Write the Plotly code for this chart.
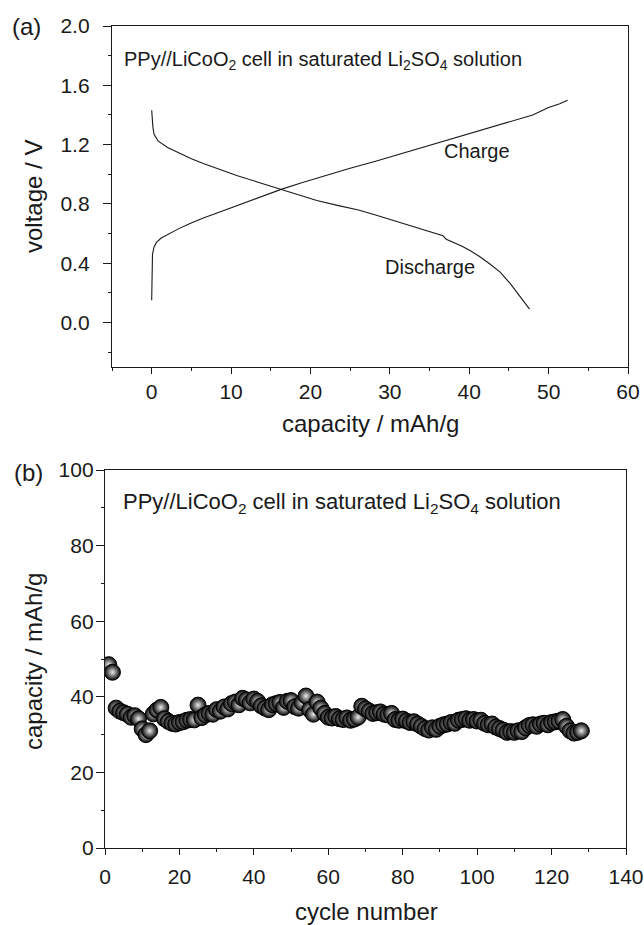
import plotly.graph_objects as go

# ---------------- data: panel (a) ----------------
charge_cap = [0.0, 0.05, 0.1, 0.3, 0.6, 1.2, 2.1, 3.3, 4.75, 6.5, 8.66, 10.3, 12.1, 14.2,
              16.3, 19.0, 21.7, 25.0, 28.2, 32.5, 36.9, 41.2, 45.6, 48.0, 50.0, 51.4, 52.4]
charge_v = [0.15, 0.30, 0.46, 0.51, 0.54, 0.57, 0.596, 0.63, 0.666, 0.705, 0.747, 0.78, 0.817, 0.857,
            0.898, 0.945, 0.99, 1.04, 1.088, 1.156, 1.223, 1.29, 1.362, 1.40, 1.45, 1.475, 1.50]

dis_cap = [0.0, 0.05, 0.15, 0.3, 0.83, 2.0, 3.44, 5.0, 6.5, 8.6, 10.8, 13.5, 16.3, 18.5, 20.8,
           23.4, 26.05, 28.2, 30.4, 32.6, 34.75, 36.7, 37.1, 38.1, 39.1, 40.2, 41.3, 42.6,
           43.9, 45.2, 46.5, 47.1, 47.6]
dis_v = [1.432, 1.38, 1.32, 1.27, 1.223, 1.18, 1.142, 1.105, 1.072, 1.03, 0.99, 0.945, 0.90, 0.86,
         0.823, 0.79, 0.759, 0.725, 0.689, 0.652, 0.615, 0.585, 0.561, 0.54, 0.515, 0.482, 0.445,
         0.395, 0.34, 0.26, 0.166, 0.12, 0.09]

# ---------------- data: panel (b) ----------------
cycles = list(range(1, 129))
capacity = [
    48.5, 46.5, 37.0, 36.2, 35.8, 35.4, 34.6, 35.0, 34.2, 31.5,
    30.0, 31.0, 35.5, 36.5, 37.2, 34.2, 33.5, 33.0, 32.8, 33.2,
    33.4, 33.8, 34.0, 33.9, 37.8, 34.5, 35.2, 35.6, 35.4, 36.6,
    36.2, 37.3, 36.8, 38.2, 38.6, 37.9, 39.6, 39.2, 38.4, 39.4,
    38.8, 37.6, 37.0, 36.6, 37.9, 38.2, 38.5, 37.2, 38.8, 39.0,
    37.4, 37.0, 38.4, 40.2, 36.6, 35.4, 38.6, 37.0, 35.6, 34.6,
    34.4, 34.8, 34.2, 34.0, 34.4, 33.8, 34.1, 34.6, 37.5, 36.8,
    36.2, 35.6, 35.8, 36.0, 35.4, 35.2, 35.6, 34.0, 33.8, 34.1,
    33.6, 33.2, 33.4, 32.8, 32.2, 31.6, 31.2, 31.8, 31.4, 32.2,
    32.6, 32.8, 33.2, 33.0, 33.8, 34.0, 34.2, 33.8, 34.0, 33.6,
    33.8, 33.0, 32.6, 32.8, 32.0, 31.6, 31.2, 30.6, 30.8, 30.6,
    31.0, 30.8, 31.8, 32.4, 32.6, 32.2, 32.8, 33.0, 32.6, 33.2,
    33.4, 33.6, 34.0, 32.2, 31.0, 30.4, 30.6, 31.0,
]

INK = "#1a1a1a"
FONT = "Liberation Sans, Arial, sans-serif"
W, H = 644, 925


def px(x):
    return x / W


def py(y):
    return 1 - y / H


fig = go.Figure()

fig.add_trace(go.Scatter(x=charge_cap, y=charge_v, mode="lines",
                         line=dict(color=INK, width=1.1), xaxis="x", yaxis="y",
                         showlegend=False))
fig.add_trace(go.Scatter(x=dis_cap, y=dis_v, mode="lines",
                         line=dict(color=INK, width=1.1), xaxis="x", yaxis="y",
                         showlegend=False))

# radial gradient: marker.color = rim, gradient.color = centre highlight
fig.add_trace(go.Scatter(x=cycles, y=capacity, mode="markers",
                         marker=dict(size=16, color="#050505",
                                     gradient=dict(type="radial", color="#ececec"),
                                     line=dict(color="#000000", width=1.0)),
                         xaxis="x2", yaxis="y2", showlegend=False))

axis_common = dict(showline=True, linecolor=INK, linewidth=1.3, mirror=True,
                   showgrid=False, zeroline=False, ticks="outside", tickwidth=1.3,
                   tickcolor=INK, tickfont=dict(family=FONT, size=21, color=INK),
                   ticklabeloverflow="allow", automargin=False)

fig.update_layout(
    width=W, height=H,
    margin=dict(l=0, r=0, t=0, b=0),
    paper_bgcolor="white", plot_bgcolor="white",
    font=dict(family=FONT, color=INK),
    xaxis=dict(domain=[px(112), px(628)], anchor="y", range=[-5, 60],
               tick0=0, dtick=10, ticklen=6,
               minor=dict(dtick=5, ticklen=3, ticks="outside", tickwidth=1.3, tickcolor=INK),
               ticklabelstandoff=0, **axis_common),
    yaxis=dict(domain=[py(367), py(26)], anchor="x", range=[-0.3, 2.0],
               tick0=0, dtick=0.4, tickformat=".1f", ticklen=8,
               minor=dict(dtick=0.2, ticklen=3, ticks="outside", tickwidth=1.3, tickcolor=INK),
               ticklabelstandoff=9, **axis_common),
    xaxis2=dict(domain=[px(105), px(626)], anchor="y2", range=[0, 140],
                tick0=0, dtick=20, ticklen=6,
                minor=dict(dtick=10, ticklen=3, ticks="outside", tickwidth=1.3, tickcolor=INK),
                ticklabelstandoff=4, **axis_common),
    yaxis2=dict(domain=[py(848), py(470)], anchor="x2", range=[0, 100],
                tick0=0, dtick=20, ticklen=8,
                minor=dict(dtick=10, ticklen=3, ticks="outside", tickwidth=1.3, tickcolor=INK),
                ticklabelstandoff=-2, **axis_common),
)

ann = []
title_font = dict(family=FONT, size=24, color=INK)
ann.append(dict(text="(a)", x=px(10), y=py(26), xref="paper", yref="paper",
                xanchor="left", yanchor="middle", showarrow=False, font=title_font))
ann.append(dict(text="(b)", x=px(12), y=py(472), xref="paper", yref="paper",
                xanchor="left", yanchor="middle", showarrow=False, font=title_font))
ann.append(dict(text="voltage / V", x=px(33), y=py(197), xref="paper", yref="paper",
                xanchor="center", yanchor="middle", textangle=-90, showarrow=False,
                font=title_font))
ann.append(dict(text="capacity / mAh/g", x=px(33), y=py(662), xref="paper", yref="paper",
                xanchor="center", yanchor="middle", textangle=-90, showarrow=False,
                font=title_font))
ann.append(dict(text="capacity / mAh/g", x=px(370), y=py(423), xref="paper", yref="paper",
                xanchor="center", yanchor="middle", showarrow=False, font=title_font))
ann.append(dict(text="cycle number", x=px(366), y=py(911), xref="paper", yref="paper",
                xanchor="center", yanchor="middle", showarrow=False, font=title_font))
ann.append(dict(text="PPy//LiCoO<sub>2</sub> cell in saturated Li<sub>2</sub>SO<sub>4</sub> solution",
                x=px(122), y=py(60), xref="paper", yref="paper", xanchor="left",
                yanchor="middle", showarrow=False, font=dict(family=FONT, size=20, color=INK)))
ann.append(dict(text="PPy//LiCoO<sub>2</sub> cell in saturated Li<sub>2</sub>SO<sub>4</sub> solution",
                x=px(121), y=py(503), xref="paper", yref="paper", xanchor="left",
                yanchor="middle", showarrow=False, font=dict(family=FONT, size=22, color=INK)))
ann.append(dict(text="Charge", x=41.0, y=1.155, xref="x", yref="y", xanchor="center",
                yanchor="middle", showarrow=False, font=dict(family=FONT, size=20, color=INK)))
ann.append(dict(text="Discharge", x=35.0, y=0.376, xref="x", yref="y", xanchor="center",
                yanchor="middle", showarrow=False, font=dict(family=FONT, size=20, color=INK)))
fig.update_layout(annotations=ann)

# remove the default 8px body margin so the figure sits at the page's top-left corner
fig.write_html("out.html",
               config={"displayModeBar": False},
               post_script="document.body.style.margin='0';document.body.style.overflow='hidden';")
